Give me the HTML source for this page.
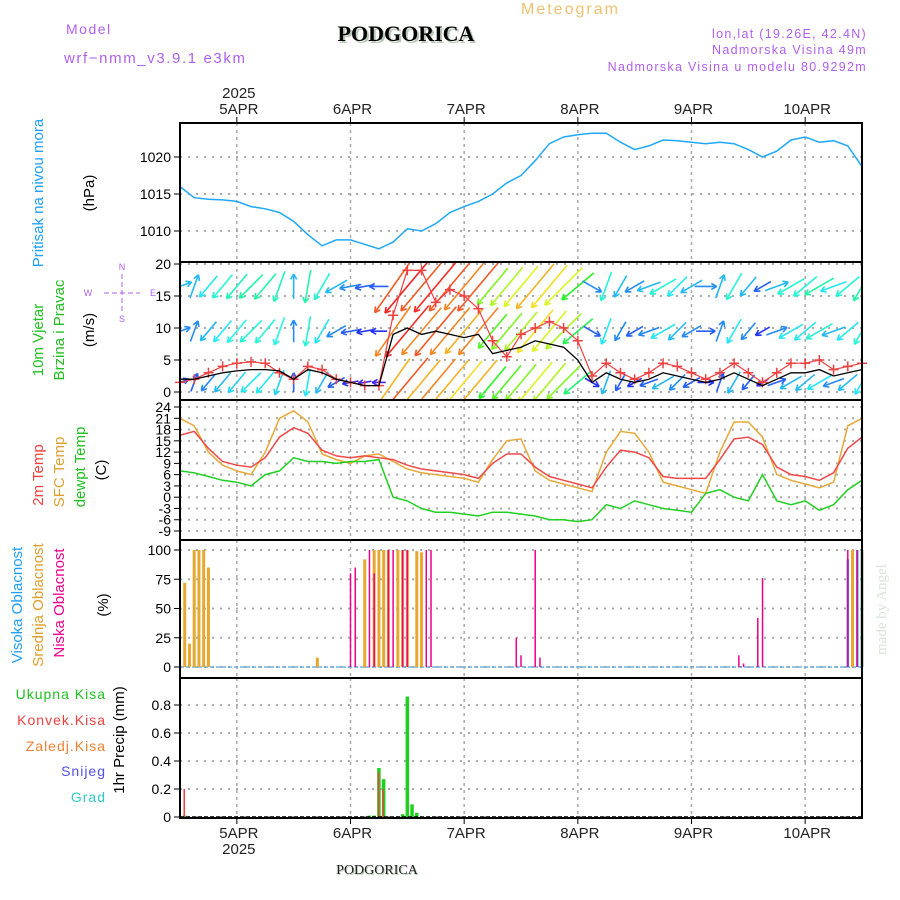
<!DOCTYPE html>
<html><head><meta charset="utf-8">
<style>
html,body{margin:0;padding:0;background:#fff;}
svg{display:block;font-family:"Liberation Sans",sans-serif;}
</style></head>
<body>
<svg id="chart" width="900" height="900" viewBox="0 0 900 900" xmlns="http://www.w3.org/2000/svg">
<defs><clipPath id="windclip"><rect x="180" y="262" width="682" height="138"/></clipPath></defs>
<rect x="0" y="0" width="900" height="900" fill="#fff"/>
<g>
<text x="66" y="34" font-size="14" fill="#b060f0" letter-spacing="1.5">Model</text>
<text x="64" y="63" font-size="15" fill="#b060f0" letter-spacing="1.6">wrf−nmm_v3.9.1 e3km</text>
<text x="521" y="14" font-size="16" fill="#f0c070" letter-spacing="2">Meteogram</text>
<text x="408" y="43" font-size="22" font-weight="bold" font-family="Liberation Serif, serif" text-anchor="middle" fill="#b8c8b8">PODGORICA</text>
<text x="406" y="41" font-size="22" font-weight="bold" font-family="Liberation Serif, serif" text-anchor="middle" fill="#000">PODGORICA</text>
<text x="867" y="38" font-size="12.5" fill="#b060f0" text-anchor="end" letter-spacing="1.3">lon,lat (19.26E, 42.4N)</text>
<text x="867" y="54" font-size="12.5" fill="#b060f0" text-anchor="end" letter-spacing="1.3">Nadmorska Visina 49m</text>
<text x="867" y="71" font-size="12.5" fill="#b060f0" text-anchor="end" letter-spacing="1.3">Nadmorska Visina u modelu 80.9292m</text>
<text x="378" y="875" font-size="14" font-family="Liberation Serif, serif" text-anchor="middle" fill="#b8c8b8">PODGORICA</text>
<text x="377" y="874" font-size="14" font-family="Liberation Serif, serif" text-anchor="middle" fill="#222">PODGORICA</text>
<text transform="translate(886,655) rotate(-90)" font-size="15" font-family="Liberation Serif, serif" fill="#d8e4d8">made by Angel</text>
</g>
<g font-size="15">
<text transform="translate(43,193) rotate(-90)" text-anchor="middle" fill="#20a0ff">Pritisak na nivou mora</text>
<text transform="translate(94,193) rotate(-90)" text-anchor="middle" fill="#000">(hPa)</text>
<text transform="translate(43,340) rotate(-90)" text-anchor="middle" fill="#20c020">10m Vjetar</text>
<text transform="translate(64,330) rotate(-90)" text-anchor="middle" fill="#20c020">Brzina i Pravac</text>
<text transform="translate(94,330) rotate(-90)" text-anchor="middle" fill="#000">(m/s)</text>
<g fill="#b060f0" font-size="9">
<text x="122" y="270" text-anchor="middle">N</text><text x="122" y="322" text-anchor="middle">S</text>
<text x="88" y="296" text-anchor="middle">W</text><text x="153" y="296" text-anchor="middle">E</text>
<line x1="104" y1="293" x2="140" y2="293" stroke="#b060f0" stroke-dasharray="5,3"/>
<line x1="122" y1="274" x2="122" y2="312" stroke="#b060f0" stroke-dasharray="5,3"/>
</g>
<text transform="translate(43,475) rotate(-90)" text-anchor="middle" fill="#f04040">2m Temp</text>
<text transform="translate(64,472) rotate(-90)" text-anchor="middle" fill="#e0a030">SFC Temp</text>
<text transform="translate(85,467) rotate(-90)" text-anchor="middle" fill="#20c020">dewpt Temp</text>
<text transform="translate(106,470) rotate(-90)" text-anchor="middle" fill="#000">(C)</text>
<text transform="translate(22,605) rotate(-90)" text-anchor="middle" fill="#20a0ff">Visoka Oblacnost</text>
<text transform="translate(43,605) rotate(-90)" text-anchor="middle" fill="#e0a030">Srednja Oblacnost</text>
<text transform="translate(64,603) rotate(-90)" text-anchor="middle" fill="#f00090">Niska Oblacnost</text>
<text transform="translate(108,605) rotate(-90)" text-anchor="middle" fill="#000">(%)</text>
<g font-size="14" text-anchor="end" letter-spacing="1">
<text x="106" y="699" fill="#20c020">Ukupna  Kisa</text>
<text x="106" y="725" fill="#f04040">Konvek.Kisa</text>
<text x="106" y="751" fill="#f08030">Zaledj.Kisa</text>
<text x="106" y="776" fill="#5050f0">Snijeg</text>
<text x="106" y="802" fill="#30c8c8">Grad</text>
</g>
<text transform="translate(124,740) rotate(-90)" text-anchor="middle" fill="#000">1hr Precip (mm)</text>
</g>
<g id="plot"></g>
</svg>
<script>
// hours from 2025-04-04 12:00, 3-hourly samples
const pressure = [1016,1014.5,1014.3,1014.2,1014,1013.3,1013,1012.5,1011.3,1009.5,1008,1008.8,1008.8,1008.2,1007.6,1008.5,1010.3,1010,1011,1012.5,1013.3,1014,1015,1016.5,1017.5,1019.5,1021.8,1022.7,1023,1023.2,1023.2,1022,1021,1021.5,1022.3,1022.2,1022,1021.8,1022,1021.8,1021,1020,1020.8,1022.3,1022.7,1022,1022.2,1021.5,1018.7];
const windSpeed = [2,2,2.5,3,3.3,3.5,3.5,3.3,2,3.5,3,2,1.5,1,1,9,10,9,9.5,9,8.5,9,6,6.5,7,8,7.5,7,5,1.5,3,2,1.5,2,3,2.5,2,1.5,2,3,2,1,2,3,3,3.5,2.5,3,3.5];
const windGust = [1.5,2,3,4,4.5,4.7,4.5,3,2,4,3.5,2,1.5,1,1,12,19,19,14,16,15,13,8,5.5,9,10,11,10,8,2.5,4.5,3,2,3,4.5,4,3,2,3,4.5,3,1.5,3,4.5,4.5,5,3.5,4,4.5];
const windDir = [250,200,40,40,40,45,40,20,180,10,30,60,80,80,90,35,40,40,40,40,40,40,40,40,40,40,40,45,50,300,20,30,60,70,60,45,60,270,200,30,40,60,250,60,50,60,70,50,30];
const windSpd2 = [2.5,2.5,3,3.5,3.8,4,4,3.8,2.5,4,3.5,2.5,2,1.5,1.5,9.5,10.5,9.5,10,9.5,9,9.5,6.5,7,7.5,8.5,8,7.5,5.5,2,3.5,2.5,2,2.5,3.5,3,2.5,2,2.5,3.5,2.5,1.5,2.5,3.5,3.5,4,3,3.5,4];
const windSpd3 = [3,3,3.5,4,4.3,4.5,4.5,4.3,3,4.5,4,3,2.5,2,2,10,11,10,10.5,10,9.5,10,7,7.5,8,9,8.5,8,6,2.5,4,3,2.5,3,4,3.5,3,2.5,3,4,3,2,3,4,4,4.5,3.5,4,4.5];
const temp2m = [16.5,17.5,13,9.5,8.5,8,10.5,16,18.5,17,12.5,11,10.5,11,10.5,10,8.5,7.5,7,6.5,6,5,9,11.5,11.5,8,5.5,4.5,3.5,2.5,8,12.5,12,10.5,5.5,5,5,5,10,15.5,16,14,8,6,5.5,4.5,6.5,13,16];
const tempSfc = [21,19,12,8.5,7,6,12,21,23,20,11.5,10,9,11,11.5,9.5,7.5,6.5,6,5.5,5,4,10,15,15.5,7,4.5,3.5,2.5,1.5,12,17.5,17,12,4,3,2,1,12,20,20,16,6,4.5,3.5,2.5,4,19,21];
const dewpt = [7,6.5,5.5,4.5,4,3,6,7,10.5,9.5,9.5,9,9.5,9.5,10,0,-1,-3,-4,-4,-4.5,-5,-4,-4,-4.5,-5,-6,-6,-6.5,-6,-2,-3,-1,-2,-3,-3.5,-4,1,2,0,-1,6,-1,-2,-1,-3.5,-2,2,4.5];
// cloud bars: hour offsets and percent
const highHours = [141,143,144];
const highVals = [92,100,100];
const midHours = [1,2,3,4,5,6,29,39,41,42,43,44,46,47,48,50,51,142,144];
const midVals = [72,20,100,100,100,85,8,92,100,100,100,100,100,100,100,99,98,100,100];
const lowHours = [36,37,40,41,44,45,47,48,52,53,71,72,75,76,118,119,122,123,141,143];
const lowVals = [80,85,100,80,100,100,100,100,100,100,25,10,100,8,10,3,42,76,100,100];
// precipitation
const precipHours = [1,40,41,42,43,47,48,49,50];
const precipTotal = [0.01,0.01,0.01,0.35,0.27,0.02,0.86,0.09,0.03];
const precipConv = [0.2,0,0,0.32,0.2,0,0,0,0];
const dayLabels = ['5APR','6APR','7APR','8APR','9APR','10APR'];
const dayHours = [12,36,60,84,108,132];
const pTicks = [1010,1015,1020];
const wTicks = [0,5,10,15,20];
const tTicks = [-9,-6,-3,0,3,6,9,12,15,18,21,24];
const cTicks = [0,25,50,75,100];
const rTicks = [0,0.2,0.4,0.6,0.8];

const NS='http://www.w3.org/2000/svg';
const plot=document.getElementById('plot');
const X0=180,X1=862,PXH=(X1-X0)/144;
const xh=h=>X0+h*PXH;
const xi=i=>xh(i*3);
const yP=p=>157+(1020-p)*7.4;
const yW=s=>392-s*6.4;
const yT=t=>407+(24-t)*3.758;
const yC=c=>667-c*1.17;
const yR=r=>817-r*140;
function mk(tag,attrs,parent){const e=document.createElementNS(NS,tag);for(const k in attrs)e.setAttribute(k,attrs[k]);(parent||plot).appendChild(e);return e;}
const panels=[
 {top:123,bot:262,ticks:pTicks,y:yP,name:'pressure',fmt:v=>v},
 {top:262,bot:400,ticks:wTicks,y:yW,name:'wind',fmt:v=>v},
 {top:400,bot:540,ticks:tTicks,y:yT,name:'temperature',fmt:v=>v},
 {top:540,bot:678,ticks:cTicks,y:yC,name:'cloud',fmt:v=>v},
 {top:678,bot:818,ticks:rTicks,y:yR,name:'precip',fmt:v=>v===0?'0':v.toFixed(1)}
];
panels.forEach(p=>{
  const g=mk('g',{});
  
  
  p.ticks.forEach(v=>{
    const y=p.y(v);
    const gl=mk('line',{x1:X0,x2:X1,y1:y,y2:y,stroke:'#aaa','stroke-dasharray':'2,6','stroke-width':2},g);
    
    
    mk('line',{x1:X0-6,x2:X0,y1:y,y2:y,stroke:'#000'},g);
    const t=mk('text',{x:X0-9,y:y+5,'font-size':14,'text-anchor':'end',fill:'#000'},g);
    t.textContent=p.fmt(v);
    
    
  });
  dayHours.forEach(h=>{
    const vl=mk('line',{x1:xh(h),x2:xh(h),y1:p.top,y2:p.bot,stroke:'#aaa','stroke-dasharray':'3,4','stroke-width':1.5},g);
    
    
  });
  p.g=g;
});
function path(vals,yf,color,name,w){
  const d=vals.map((v,i)=>(i?'L':'M')+xi(i).toFixed(1)+','+yf(v).toFixed(1)).join('');
  const e=mk('path',{d:d,fill:'none',stroke:color,'stroke-width':w||1.4});
  
  
  return e;
}
path(pressure,yP,'#20a8f8','pressure-line',1.5);
// wind arrows (centered on row base, clipped to panel)
function hue(s){return Math.max(0,275-s*26);}
const windG=mk('g',{'clip-path':'url(#windclip)'});


[[windSpeed,1.5],[windSpd2,9.5],[windSpd3,16.5]].forEach((row,ri)=>{
  const g=mk('g',{},windG);
  
  
  row[0].forEach((s,i)=>{
    const cx=xi(i),cy=yW(row[1]);
    const a=windDir[i]*Math.PI/180,L=s*5.6+8;
    const ux=Math.sin(a),uy=-Math.cos(a);
    const x=cx-ux*L/2,y=cy-uy*L/2; // head
    const tx=cx+ux*L/2,ty=cy+uy*L/2; // tail
    const col='hsl('+hue(s)+',90%,55%)';
    const ar=mk('g',{stroke:col,'stroke-width':1.6,fill:'none'},g);
    
    
    mk('line',{x1:x,y1:y,x2:tx,y2:ty},ar);
    const hx=ux*6,hy=uy*6;
    mk('line',{x1:x,y1:y,x2:x+hx*0.9-hy*0.5,y2:y+hy*0.9+hx*0.5},ar);
    mk('line',{x1:x,y1:y,x2:x+hx*0.9+hy*0.5,y2:y+hy*0.9-hx*0.5},ar);
  });
});
path(windGust,yW,'#f04040','wind-gust-line',1.2);
windGust.forEach((v,i)=>{
  const x=xi(i),y=yW(v);
  const m=mk('path',{d:`M${x-5},${y}h10M${x},${y-5}v10`,stroke:'#f04040','stroke-width':1.5});
  
  
});
path(windSpeed,yW,'#000','wind-speed-line',1.3);
// temperature
path(tempSfc,yT,'#e8a838','sfc-temp-line',1.5);
path(temp2m,yT,'#f04848','temp-2m-line',1.5);
path(dewpt,yT,'#20d020','dewpoint-line',1.5);
// cloud bars
function bars(hours,vals,yf,color,w,off,name){
  hours.forEach((h,i)=>{
    if(vals[i]<=0)return;
    const x=xh(h)+off,y=yf(vals[i]);
    const b=mk('rect',{x:x-w/2,y:y,width:w,height:yf(0)-y,fill:color});
    
    
  });
}
const cb=mk('line',{x1:X0,x2:X1,y1:yC(0),y2:yC(0),stroke:'#6ab0e8','stroke-width':1.5,'stroke-dasharray':'4,2'});


bars(midHours,midVals,yC,'#e8a830',3,0,'cloud-mid-bar');
bars(highHours,highVals,yC,'#20a0f8',2.5,0,'cloud-high-bar');
bars(lowHours,lowVals,yC,'#f00088',1.5,0,'cloud-low-bar');
// precip bars
bars(precipHours,precipTotal,yR,'#20d020',3.5,0,'precip-total-bar');
bars(precipHours,precipConv,yR,'#f04040',1.5,-0.5,'precip-convective-bar');
const rb=mk('line',{x1:X0,x2:X1,y1:yR(0),y2:yR(0),stroke:'#000','stroke-width':1.5,'stroke-dasharray':'4,2'});


// frames
panels.forEach(p=>{
  const f=mk('rect',{x:X0,y:p.top,width:X1-X0,height:p.bot-p.top,fill:'none',stroke:'#000','stroke-width':2});
  
  
});
// date axis labels
dayLabels.forEach((d,i)=>{
  const x=xh(dayHours[i]);
  mk('line',{x1:x,x2:x,y1:117,y2:123,stroke:'#000'});
  mk('line',{x1:x,x2:x,y1:818,y2:824,stroke:'#000'});
  const t=mk('text',{x:x+2,y:114,'font-size':15,'text-anchor':'middle',fill:'#222'});
  t.textContent=d;
  
  
  const b=mk('text',{x:x+2,y:838,'font-size':15,'text-anchor':'middle',fill:'#222'});
  b.textContent=d;
  
  
});
const y1=mk('text',{x:xh(12)+2,y:98,'font-size':15,'text-anchor':'middle',fill:'#222'});
y1.textContent='2025';


const y2=mk('text',{x:xh(12)+2,y:854,'font-size':15,'text-anchor':'middle',fill:'#222'});
y2.textContent='2025';


</script>
</body></html>
